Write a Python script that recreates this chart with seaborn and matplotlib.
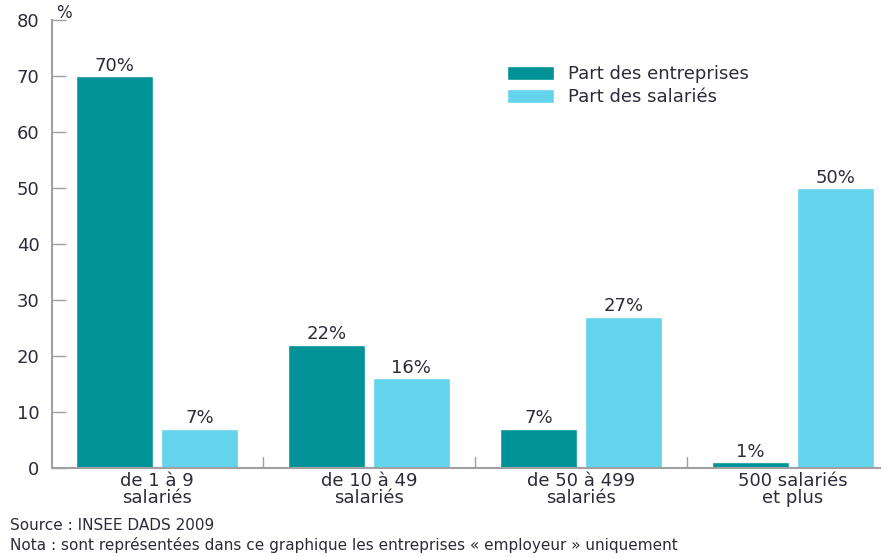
import seaborn as sns
import matplotlib.pyplot as plt
import pandas as pd

categories = ['de 1 à 9\nsalariés', 'de 10 à 49\nsalariés', 'de 50 à 499\nsalariés', '500 salariés\net plus']
series_names = ['Part des entreprises', 'Part des salariés']
part_entreprises = [70, 22, 7, 1]
part_salaries = [7, 16, 27, 50]
y_ticks = [0, 10, 20, 30, 40, 50, 60, 70, 80]

couleurs = ['#009297', '#64D3EC']
texte = '#2b2b3a'

df = pd.DataFrame({
    'categorie': categories * 2,
    'serie': [series_names[0]] * 4 + [series_names[1]] * 4,
    'valeur': part_entreprises + part_salaries,
})

sns.set_style('white')
plt.rcParams['font.family'] = ['DejaVu Sans']

fig = plt.figure(figsize=(8.92, 5.57), dpi=100)
ax = fig.add_axes([52 / 892, 1 - 468 / 557, 828 / 892, 448 / 557])

sns.barplot(data=df, x='categorie', y='valeur', hue='serie', order=categories,
            hue_order=series_names, palette=couleurs, width=0.8, gap=0.1,
            saturation=1, ax=ax)

for cont in ax.containers:
    ax.bar_label(cont, labels=[f'{v:.0f}%' for v in cont.datavalues],
                 padding=1, fontsize=13, color=texte)

ax.set_xlim(-0.495, 3.41)
ax.set_ylim(0, 80)
ax.set_yticks(y_ticks)
ax.set_xlabel('')
ax.set_ylabel('')

for s in ['top', 'right']:
    ax.spines[s].set_visible(False)
ax.spines['left'].set_color('#a0a0a0')
ax.spines['bottom'].set_color('#a0a0a0')
ax.spines['left'].set_linewidth(1.5)
ax.spines['bottom'].set_linewidth(1.5)

ax.tick_params(axis='y', direction='in', length=10, width=1, color='#a0a0a0',
               labelsize=13, labelcolor=texte, pad=9, left=True)
ax.tick_params(axis='x', length=0, labelsize=13, labelcolor=texte, pad=3)
for lbl in ax.get_xticklabels():
    lbl.set_linespacing(0.95)

# separateurs entre groupes
for xs in [0.5, 1.5, 2.5]:
    ax.plot([xs, xs], [0, 2], color='#a0a0a0', lw=1, clip_on=False)

fig.text(56 / 892, 1 - 13 / 557, '%', fontsize=12, color=texte, va='center')

ax.legend(loc='upper left', bbox_to_anchor=(0.53, 0.935), frameon=False,
          fontsize=13, handlelength=2.6, handleheight=0.8, labelspacing=0.25,
          handletextpad=0.8, labelcolor=texte)

fig.text(10 / 892, 1 - 525 / 557, 'Source : INSEE DADS 2009', fontsize=11, color=texte, va='center')
fig.text(10 / 892, 1 - 545 / 557,
         'Nota : sont représentées dans ce graphique les entreprises « employeur » uniquement',
         fontsize=11, color=texte, va='center')

fig.savefig('out.png', dpi=100)
